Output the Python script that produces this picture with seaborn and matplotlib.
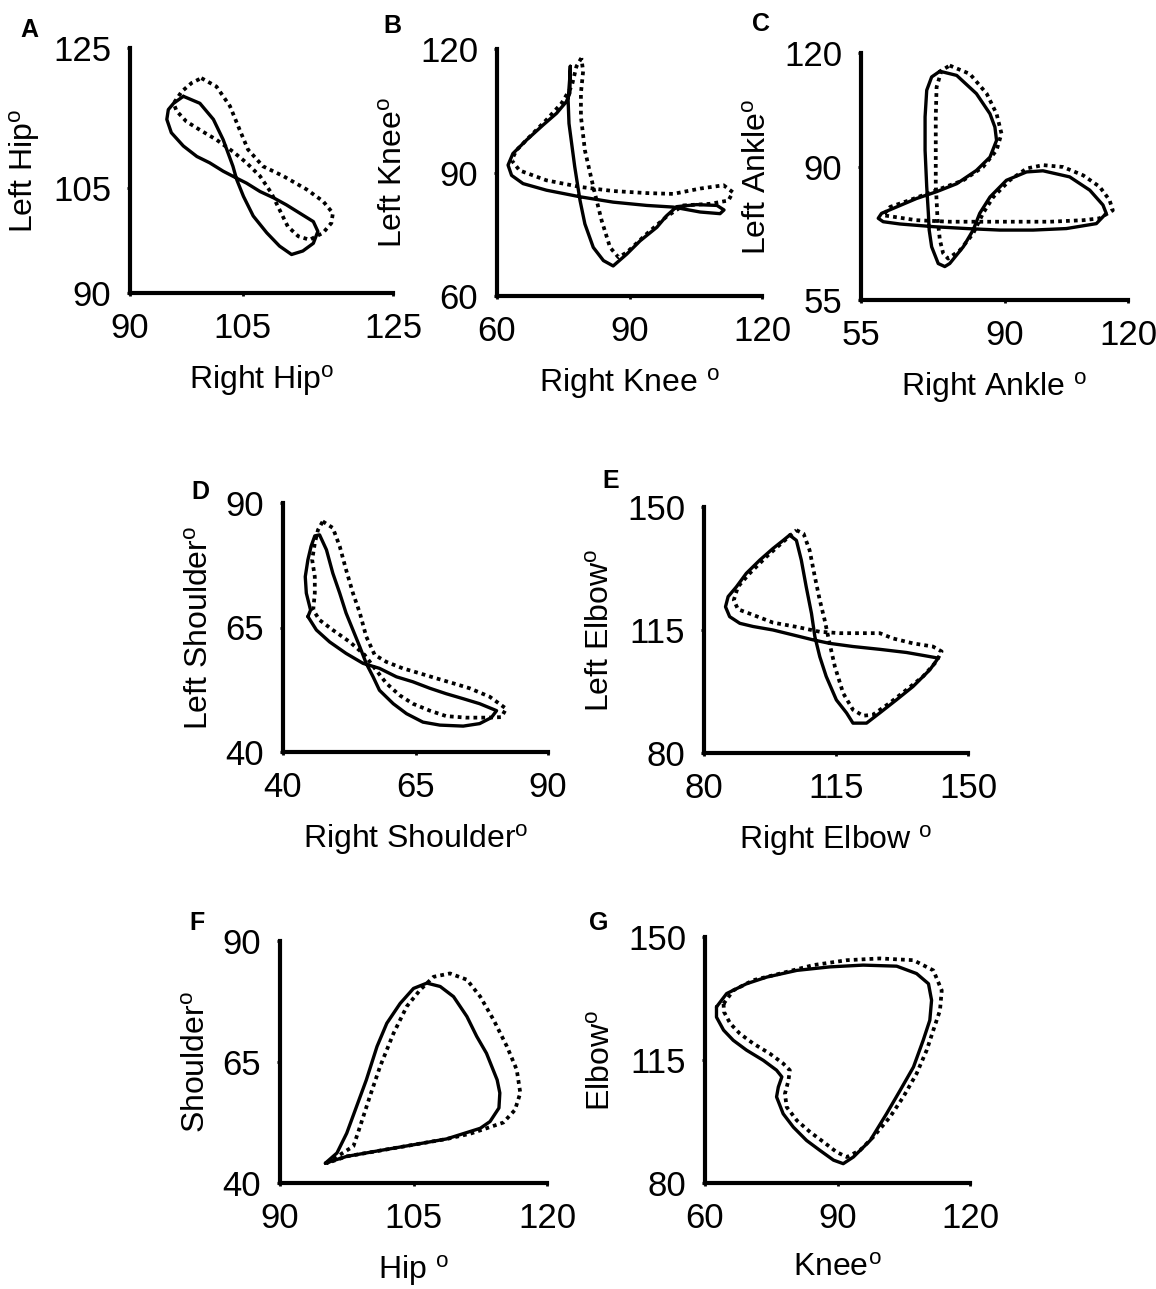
import matplotlib
matplotlib.use("Agg")
import matplotlib.pyplot as plt
import numpy as np
import seaborn as sns

# ---- data: joint angle loops (degrees), solid and dotted traces ----
a_solid_x = [97.1, 99.3, 101.1, 102.4, 103.7, 104.2, 105.1, 106.4, 108.2, 109.9, 111.5, 113.0, 114.4, 115.0,
             114.4, 112.6, 110.8, 109.1, 107.3, 105.5, 104.2, 102.4, 100.6, 98.9, 97.1, 95.5, 94.9, 95.1, 95.8]
a_solid_y = [118.1, 117.1, 114.8, 111.9, 108.1, 106.2, 103.8, 101.0, 98.6, 96.7, 95.5, 96.0, 97.1, 98.8,
             100.2, 101.4, 102.6, 103.6, 104.5, 105.7, 106.4, 107.4, 108.6, 109.5, 111.0, 112.9, 114.8, 116.2, 117.1]
a_dot_x = [99.5, 101.5, 103.3, 104.6, 105.7, 107.7, 110.4, 113.5, 115.7, 117.0, 116.8, 115.7, 113.9, 112.4,
           111.0, 109.9, 108.8, 107.3, 105.5, 103.7, 101.5, 99.3, 97.5, 96.2, 95.8, 96.9, 98.2]
a_dot_y = [120.7, 119.5, 116.7, 113.3, 110.5, 108.1, 106.7, 104.8, 103.1, 101.4, 100.0, 98.6, 97.6, 98.1,
           99.5, 101.9, 104.3, 106.7, 108.6, 110.2, 111.9, 113.3, 114.5, 116.0, 117.1, 118.8, 120.0]

b_solid_x = [76.6, 76.5, 75.7, 73.5, 70.4, 66.7, 63.6, 62.5, 63.3, 65.9, 71.2, 78.8, 86.3, 93.9, 99.9, 106.0,
             110.5, 111.4, 109.8, 105.2, 100.7, 98.4, 96.2, 92.4, 89.4, 86.3, 84.1, 81.8, 79.9, 78.8, 77.6,
             76.3, 76.1, 76.5]
b_solid_y = [115.8, 109.3, 107.2, 104.4, 101.5, 97.9, 94.6, 91.8, 89.3, 87.3, 85.7, 84.1, 82.8, 82.0, 81.6, 80.4,
             80.0, 80.9, 82.0, 82.2, 81.7, 79.5, 76.7, 73.4, 70.2, 67.3, 68.6, 71.8, 77.5, 83.2, 91.4,
             101.9, 107.6, 113.3]
b_dot_x = [79.1, 78.0, 76.9, 74.6, 71.2, 67.4, 64.4, 63.3, 65.1, 71.2, 78.8, 86.3, 93.9, 99.9, 106.0, 111.3,
           113.4, 112.4, 108.3, 102.2, 98.4, 93.9, 89.4, 87.5, 85.6, 83.7, 81.8, 79.9, 79.0, 79.0, 79.5]
b_dot_y = [117.8, 115.8, 110.9, 106.8, 102.8, 98.7, 95.4, 93.0, 90.5, 88.1, 86.5, 85.5, 85.0, 84.8, 86.1, 86.9,
           85.2, 83.2, 82.4, 82.0, 79.3, 75.1, 70.6, 69.4, 71.8, 78.3, 86.5, 95.4, 103.6, 109.3, 114.6]

c_solid_x = [74.2, 78.3, 83.1, 86.4, 87.6, 88.0, 86.4, 83.1, 78.3, 73.4, 68.5, 63.7, 60.0, 59.2, 60.4, 64.5,
             72.6, 80.7, 88.8, 96.9, 105.0, 112.3, 114.7, 113.9, 110.7, 105.8, 99.3, 95.3, 90.4, 86.4, 83.9,
             82.3, 79.9, 76.6, 75.4, 73.8, 72.2, 71.6, 71.4, 71.0, 70.6, 70.6, 71.0, 72.2]
c_solid_y = [115.2, 114.1, 109.3, 104.0, 100.5, 97.0, 92.6, 89.1, 85.6, 83.5, 81.7, 79.5, 77.8, 76.5, 75.6, 75.0,
             74.3, 73.8, 73.4, 73.4, 73.8, 75.1, 77.8, 80.0, 83.9, 87.4, 89.0, 88.7, 86.5, 82.1, 77.8,
             73.4, 69.0, 64.6, 63.8, 64.6, 69.0, 73.4, 77.8, 84.8, 94.4, 103.2, 110.2, 113.7]
c_dot_x = [76.6, 81.5, 85.6, 88.0, 89.2, 88.0, 84.7, 79.9, 73.4, 66.9, 62.1, 60.4, 62.9, 68.5, 76.6, 84.7,
           92.8, 101.0, 109.1, 113.1, 116.3, 115.5, 113.1, 109.1, 104.2, 99.3, 95.3, 91.2, 87.2, 84.7, 82.3,
           79.1, 76.2, 75.0, 74.2, 73.6, 73.2, 73.2, 73.2, 73.4, 74.6]
c_dot_y = [116.7, 114.5, 109.3, 104.0, 98.8, 94.4, 90.0, 86.5, 83.9, 81.3, 79.5, 77.3, 76.9, 76.0, 75.6, 75.6,
           75.6, 75.6, 76.0, 76.5, 78.6, 81.3, 84.8, 87.8, 90.0, 90.5, 89.6, 86.5, 82.1, 77.8, 72.5,
           68.1, 65.9, 67.3, 70.8, 76.9, 85.6, 94.4, 103.2, 111.0, 115.4]

d_solid_x = [44.7, 46.3, 48.8, 51.9, 55.1, 58.2, 61.4, 64.5, 67.7, 70.8, 74.0, 77.1, 80.3, 79.3, 77.1, 74.0,
             69.6, 66.4, 63.3, 60.8, 58.2, 57.0, 55.7, 54.5, 53.2, 51.9, 50.7, 49.4, 48.2, 46.9, 46.0, 45.3,
             44.7, 44.2, 44.4, 45.2]
d_solid_y = [67.2, 64.5, 62.1, 59.8, 57.8, 56.8, 55.1, 54.1, 52.8, 51.7, 50.7, 49.7, 48.3, 46.9, 45.7, 45.2,
             45.4, 46.0, 47.7, 49.7, 52.4, 55.1, 57.8, 61.1, 64.5, 67.9, 71.9, 75.9, 80.6, 83.6, 83.4, 81.3,
             78.6, 75.2, 71.9, 68.5]
d_dot_x = [47.5, 49.4, 50.7, 51.9, 53.2, 54.5, 55.7, 57.3, 59.5, 62.6, 65.8, 68.9, 72.1, 75.2, 79.0, 82.1,
           81.2, 78.4, 74.6, 70.8, 67.7, 64.5, 62.0, 59.5, 57.6, 55.4, 52.6, 49.4, 46.9, 45.7, 46.0, 46.0,
           45.5, 46.0, 46.6]
d_dot_y = [86.3, 85.0, 81.3, 76.6, 71.9, 67.9, 63.2, 59.5, 58.1, 56.8, 55.8, 54.8, 53.8, 52.8, 51.1, 48.7,
           47.0, 46.9, 46.9, 47.2, 48.3, 49.7, 51.4, 53.8, 56.4, 59.5, 62.1, 64.5, 66.5, 68.5, 71.9, 75.2,
           78.6, 81.9, 84.6]

e_solid_x = [102.7, 104.5, 105.8, 107.1, 108.5, 109.4, 110.7, 112.4, 115.1, 117.8, 119.5, 123.1, 126.6, 131.0,
             135.4, 139.9, 142.1, 139.0, 133.7, 126.6, 119.5, 113.3, 108.9, 103.6, 98.3, 93.0, 89.5, 86.8,
             85.7, 86.4, 88.6, 91.2, 94.8, 98.3, 101.0]
e_solid_y = [142.0, 140.5, 134.9, 127.3, 119.7, 113.1, 107.4, 101.8, 95.1, 91.4, 88.5, 88.5, 91.4, 95.1,
             98.9, 103.7, 107.0, 107.6, 108.6, 109.5, 110.3, 111.2, 112.2, 113.6, 115.0, 116.0, 116.9, 118.8,
             121.6, 124.5, 127.3, 131.1, 134.9, 138.2, 140.5]
e_dot_x = [104.5, 106.4, 108.0, 109.4, 110.7, 112.0, 113.3, 114.7, 116.9, 119.5, 122.2, 124.8, 129.2, 133.7,
           138.1, 141.6, 143.0, 140.7, 135.4, 130.1, 126.6, 122.2, 116.0, 110.7, 104.5, 98.3, 93.0, 89.0,
           87.9, 89.0, 92.1, 96.5, 101.0]
e_dot_y = [143.4, 142.4, 137.7, 130.1, 123.5, 117.8, 111.2, 104.6, 97.0, 92.3, 90.6, 90.9, 94.2, 98.0,
           101.8, 106.0, 108.9, 110.3, 111.2, 112.6, 114.1, 114.1, 114.1, 114.5, 115.9, 117.1, 119.3, 120.9,
           123.5, 127.3, 131.1, 135.8, 140.1]

f_solid_x = [95.1, 96.4, 97.5, 98.6, 99.7, 100.9, 102.0, 103.5, 105.0, 106.5, 108.0, 109.5, 111.0, 112.1,
             113.2, 114.4, 114.7, 114.6, 113.6, 112.5, 110.6, 108.7, 105.0, 101.2, 97.5]
f_solid_y = [44.1, 46.2, 50.3, 55.8, 61.3, 68.2, 73.0, 77.1, 80.2, 81.3, 80.6, 78.5, 74.4, 70.3,
             66.8, 61.3, 58.6, 55.5, 52.7, 51.3, 50.2, 49.1, 47.9, 46.7, 45.5]
f_dot_x = [95.25, 98.25, 99.0, 100.1, 101.25, 102.75, 104.25, 105.75, 107.25, 109.1, 111.0, 112.5, 114.0,
           115.5, 116.6, 117.0, 116.4, 115.1, 113.2, 111.4, 108.75, 105.0, 101.25, 97.5]
f_dot_y = [44.1, 47.6, 51.7, 57.9, 64.1, 70.9, 76.5, 79.9, 82.6, 83.3, 82.0, 78.5, 73.7,
           68.2, 63.4, 58.6, 55.1, 52.5, 51.3, 50.2, 49.1, 47.9, 46.7, 45.5]

g_solid_x = [62.6, 64.9, 69.4, 74.0, 80.8, 88.3, 95.8, 103.4, 107.9, 110.6, 111.3, 110.9, 109.4, 107.2, 104.2,
             101.1, 97.4, 93.6, 91.3, 89.1, 86.0, 83.0, 80.0, 77.7, 76.2, 76.6, 77.4, 76.2, 73.2, 69.4, 66.4,
             64.2, 62.6]
g_solid_y = [130.1, 133.9, 136.7, 138.6, 140.5, 141.5, 142.0, 141.7, 139.6, 136.7, 132.0, 126.3, 120.6, 113.0,
             106.4, 99.7, 92.1, 87.4, 85.5, 86.5, 89.3, 92.1, 95.9, 99.7, 104.5, 107.3, 110.2, 112.1, 114.9,
             117.8, 120.6, 123.5, 127.2]
g_dot_x = [64.2, 66.4, 70.9, 77.0, 84.5, 92.1, 99.6, 107.2, 111.7, 113.6, 113.2, 111.7, 110.2, 107.9, 104.9,
           101.9, 98.1, 95.1, 92.1, 89.8, 86.8, 83.8, 80.8, 78.5, 78.1, 78.9, 79.2, 77.7, 74.7, 70.9, 67.9,
           65.7, 64.3]
g_dot_y = [131.0, 134.8, 137.7, 139.6, 142.0, 143.4, 143.9, 143.4, 140.5, 134.8, 129.1, 123.5, 117.8, 111.1,
           104.5, 98.8, 93.1, 89.3, 87.4, 88.8, 91.7, 94.5, 97.8, 101.6, 105.4, 109.2, 112.1, 114.0, 116.8,
           119.7, 122.5, 125.4, 128.7]

panels = [
    # letter, solid, dotted, xticks, yticks, xlabel, ylabel,
    # axes box in px (left, top, right, bottom), letter position in px (x, y top)
    ("A", (a_solid_x, a_solid_y), (a_dot_x, a_dot_y), [90, 105, 125], [90, 105, 125],
     "Right Hip$^{o}$", "Left Hip$^{o}$", (130, 48, 393, 293), (20, 18)),
    ("B", (b_solid_x, b_solid_y), (b_dot_x, b_dot_y), [60, 90, 120], [60, 90, 120],
     "Right Knee $^{o}$", "Left Knee$^{o}$", (497, 49, 762, 296), (383, 14)),
    ("C", (c_solid_x, c_solid_y), (c_dot_x, c_dot_y), [55, 90, 120], [55, 90, 120],
     "Right Ankle $^{o}$", "Left Ankle$^{o}$", (861, 53, 1128, 300), (752, 12)),
    ("D", (d_solid_x, d_solid_y), (d_dot_x, d_dot_y), [40, 65, 90], [40, 65, 90],
     "Right Shoulder$^{o}$", "Left Shoulder$^{o}$", (283, 503, 548, 752), (191, 480)),
    ("E", (e_solid_x, e_solid_y), (e_dot_x, e_dot_y), [80, 115, 150], [80, 115, 150],
     "Right Elbow $^{o}$", "Left Elbow$^{o}$", (704, 507, 968, 753), (602, 469)),
    ("F", (f_solid_x, f_solid_y), (f_dot_x, f_dot_y), [90, 105, 120], [40, 65, 90],
     "Hip $^{o}$", "Shoulder$^{o}$", (280, 941, 547, 1183), (189, 911)),
    ("G", (g_solid_x, g_solid_y), (g_dot_x, g_dot_y), [60, 90, 120], [80, 115, 150],
     "Knee$^{o}$", "Elbow$^{o}$", (705, 937, 970, 1183), (589, 911)),
]

sns.set_theme(style="ticks")
plt.rcParams["font.family"] = ["Liberation Sans", "DejaVu Sans"]
plt.rcParams["mathtext.fontset"] = "custom"
plt.rcParams["mathtext.rm"] = "Liberation Sans"
plt.rcParams["mathtext.default"] = "regular"
plt.rcParams["text.color"] = "black"
plt.rcParams["axes.labelcolor"] = "black"

W, H = 1156, 1289
fig = plt.figure(figsize=(W / 100, H / 100), dpi=100)


def closed(xs, ys):
    return np.append(xs, xs[0]), np.append(ys, ys[0])


for letter, solid, dotted, xt, yt, xl, yl, (l, t, r, b), (lx, ly) in panels:
    ax = fig.add_axes([l / W, (H - b) / H, (r - l) / W, (b - t) / H])
    sx, sy = closed(*solid)
    dx, dy = closed(*dotted)
    sns.lineplot(x=dx, y=dy, sort=False, estimator=None, color="black", lw=2.7,
                 linestyle=(0, (1, 1.1)), ax=ax)
    sns.lineplot(x=sx, y=sy, sort=False, estimator=None, color="black", lw=2.4, ax=ax)
    ax.set_xlim(xt[0], xt[-1])
    ax.set_ylim(yt[0], yt[-1])
    ax.set_xticks(xt)
    ax.set_yticks(yt)
    ax.tick_params(labelsize=25, length=2.5, width=2, pad=11, colors="black")
    for s in ("top", "right"):
        ax.spines[s].set_visible(False)
    for s in ("left", "bottom"):
        ax.spines[s].set_linewidth(3)
        ax.spines[s].set_color("black")
    ax.set_xlabel(xl, fontsize=23, labelpad=13, color="black")
    ax.set_ylabel(yl, fontsize=23, labelpad=8, color="black")
    ax.patch.set_alpha(0)
    fig.text(lx / W, 1 - ly / H, letter, fontsize=18, fontweight="bold",
             ha="left", va="top", color="black")

fig.savefig("out.png", dpi=100)
